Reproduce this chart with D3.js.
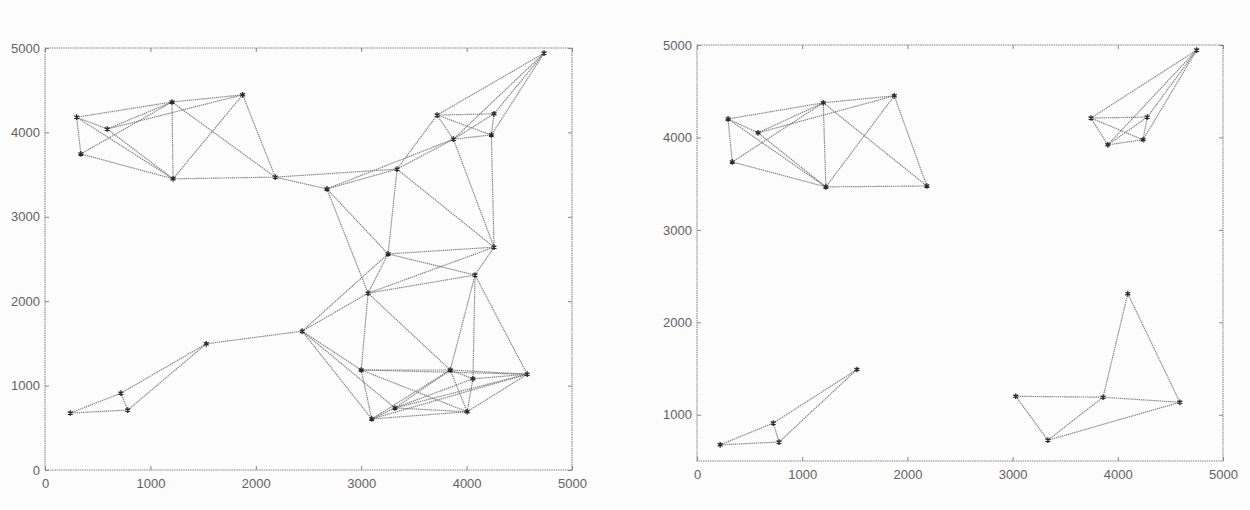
<!DOCTYPE html>
<html>
<head>
<meta charset="utf-8">
<script src="https://cdn.jsdelivr.net/npm/d3@7"></script>
<style>
  html, body { margin: 0; padding: 0; background: #fcfcfc; }
  svg { display: block; }
  text { font-family: "Liberation Sans", Arial, sans-serif; }
</style>
</head>
<body>
<svg id="chart" width="1250" height="510"></svg>
<script>
// ---------- DATA ----------
const xTicks = [0, 1000, 2000, 3000, 4000, 5000];
const leftYTicks = [0, 1000, 2000, 3000, 4000, 5000];
const rightYTicks = [1000, 2000, 3000, 4000, 5000];

const leftNodeNames = ["A","B","C","D","E","F","G","H","I","J","K","L","M","N","O","P","R","S","T","U","V","W","X","Y","Z","AA","AB","AC","AD","AE"];
const leftNodeX = [300, 590, 340, 1205, 1875, 1215, 2185, 2675, 4735, 3720, 4260, 3875, 4235, 3340, 4260, 3255, 4080, 3065, 2440, 3000, 3845, 4060, 4575, 3320, 3100, 4005, 240, 720, 785, 1530];
const leftNodeY = [4180, 4040, 3745, 4360, 4445, 3450, 3470, 3330, 4940, 4205, 4220, 3920, 3970, 3565, 2640, 2560, 2310, 2095, 1645, 1185, 1185, 1080, 1135, 735, 605, 690, 675, 910, 710, 1495];
const leftEdges = [
  ["A","D"],["A","C"],["A","F"],["A","B"],["B","D"],["B","E"],["B","F"],["C","D"],["C","F"],
  ["D","E"],["D","F"],["D","G"],["E","F"],["E","G"],["F","G"],["G","H"],["G","N"],["H","N"],
  ["H","L"],["N","L"],["L","K"],["N","J"],["J","K"],["J","L"],["J","M"],["L","M"],["K","M"],
  ["I","J"],["I","L"],["I","K"],["I","M"],["M","O"],["L","O"],["N","P"],["N","O"],["H","P"],
  ["H","S"],["P","O"],["P","R"],["O","R"],["O","S"],["S","R"],["P","S"],["T","P"],["T","S"],
  ["S","U"],["S","V"],["R","V"],["R","W"],["R","X"],["T","U"],["T","Y"],["T","Z"],["U","V"],
  ["U","X"],["U","Z"],["U","AA"],["V","W"],["V","X"],["W","X"],["V","Y"],["V","Z"],["W","Y"],
  ["X","Y"],["X","Z"],["X","AA"],["W","AA"],["V","AA"],["Z","AA"],["Z","Y"],["Y","AA"],
  ["AB","AC"],["AB","AD"],["AC","AD"],["AC","AE"],["AD","AE"],["AE","T"]
];

const rightNodeNames = ["a","b","c","d","e","f","g","h","i","j","k","l","m","n","o","p","q","r","s","t","u"];
const rightNodeX = [295, 580, 335, 1200, 1875, 1225, 2185, 4750, 3745, 4280, 3905, 4240, 220, 725, 780, 1520, 4095, 3030, 3860, 4590, 3335];
const rightNodeY = [4200, 4050, 3735, 4375, 4450, 3465, 3475, 4945, 4210, 4220, 3920, 3975, 675, 910, 705, 1490, 2310, 1200, 1190, 1135, 725];
const rightEdges = [
  ["a","d"],["a","c"],["a","f"],["a","b"],["b","d"],["b","e"],["b","f"],["c","d"],["c","f"],
  ["d","e"],["d","f"],["d","g"],["e","f"],["e","g"],["f","g"],
  ["h","i"],["h","j"],["h","k"],["h","l"],["i","j"],["i","k"],["i","l"],["j","k"],["j","l"],["k","l"],
  ["m","n"],["m","o"],["n","o"],["n","p"],["o","p"],
  ["q","s"],["q","t"],["r","s"],["r","u"],["s","u"],["s","t"],["u","t"]
];

// ---------- DRAW ----------
const svg = d3.select("#chart");

function drawPanel(cfg) {
  const x = d3.scaleLinear().domain(cfg.xDomain).range([cfg.x0, cfg.x1]);
  const y = d3.scaleLinear().domain(cfg.yDomain).range([cfg.y0, cfg.y1]);
  const g = svg.append("g");

  const frameColor = "#868686";
  g.append("rect")
    .attr("x", cfg.x0).attr("y", cfg.y1)
    .attr("width", cfg.x1 - cfg.x0).attr("height", cfg.y0 - cfg.y1)
    .attr("fill", "none").attr("stroke", frameColor).attr("stroke-width", 1.1)
    .attr("stroke-dasharray", "1.5,0.8");

  const axB = d3.axisBottom(x).tickValues(cfg.xTicks).tickSize(-4).tickPadding(9).tickFormat(d3.format("d"));
  const axT = d3.axisTop(x).tickValues(cfg.xTicks).tickSize(-4).tickFormat("");
  const axL = d3.axisLeft(y).tickValues(cfg.yTicks).tickSize(-4).tickPadding(5).tickFormat(d3.format("d"));
  const axR = d3.axisRight(y).tickValues(cfg.yTicks).tickSize(-4).tickFormat("");

  function style(sel) {
    sel.select(".domain").remove();
    sel.selectAll(".tick line").attr("stroke", frameColor);
    sel.selectAll(".tick text").attr("fill", "#626262").style("font-size", "13px")
      .style("font-family", "'Liberation Sans', Arial, sans-serif");
  }
  g.append("g").attr("transform", `translate(0,${cfg.y0})`).call(axB).call(style);
  g.append("g").attr("transform", `translate(0,${cfg.y1})`).call(axT).call(style);
  g.append("g").attr("transform", `translate(${cfg.x0},0)`).call(axL).call(style);
  g.append("g").attr("transform", `translate(${cfg.x1},0)`).call(axR).call(style);

  const idx = {};
  cfg.names.forEach((n, i) => idx[n] = i);

  g.append("g").selectAll("line").data(cfg.edges).join("line")
    .attr("x1", d => x(cfg.nx[idx[d[0]]]))
    .attr("y1", d => y(cfg.ny[idx[d[0]]]))
    .attr("x2", d => x(cfg.nx[idx[d[1]]]))
    .attr("y2", d => y(cfg.ny[idx[d[1]]]))
    .attr("stroke", "#6e6e6e")
    .attr("stroke-width", 1.15)
    .attr("stroke-dasharray", "1.4,0.7")
    .attr("stroke-opacity", 0.85);

  const sym = d3.symbol().type(d3.symbolAsterisk).size(22);
  g.append("g").selectAll("path").data(cfg.names).join("path")
    .attr("transform", (d, i) => `translate(${x(cfg.nx[i])},${y(cfg.ny[i])})`)
    .attr("d", sym)
    .attr("fill", "none")
    .attr("stroke", "#2a2a2a")
    .attr("stroke-width", 1.3);
}

drawPanel({
  x0: 45, x1: 572, y0: 470, y1: 48,
  xDomain: [0, 5000], yDomain: [0, 5000],
  xTicks: xTicks, yTicks: leftYTicks,
  names: leftNodeNames, nx: leftNodeX, ny: leftNodeY, edges: leftEdges
});

drawPanel({
  x0: 697, x1: 1223, y0: 461, y1: 45,
  xDomain: [0, 5000], yDomain: [500, 5000],
  xTicks: xTicks, yTicks: rightYTicks,
  names: rightNodeNames, nx: rightNodeX, ny: rightNodeY, edges: rightEdges
});
</script>
</body>
</html>
